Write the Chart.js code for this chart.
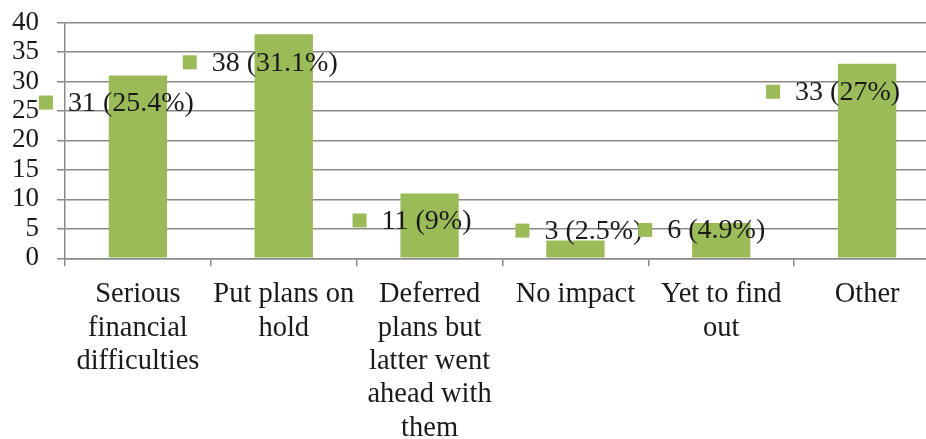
<!DOCTYPE html>
<html lang="en">
<head>
    <meta charset="UTF-8">
    <title>Impact on plans</title>
    <style>
        body {
            margin: 0;
            padding: 0;
            background: #fff;
            overflow: hidden;
        }
        #chart-container {
            width: 940px;
            height: 466px;
            margin-top: -9px;
        }
    </style>
</head>
<body>
    <div id="chart-container">
        <canvas id="impactChart"></canvas>
    </div>

    <script src="https://cdn.jsdelivr.net/npm/chart.js"></script>
    <script>
        var categories = [
            ['Serious', 'financial', 'difficulties'],
            ['Put plans on', 'hold'],
            ['Deferred', 'plans but', 'latter went', 'ahead with', 'them'],
            ['No impact'],
            ['Yet to find', 'out'],
            ['Other']
        ];
        var counts = [31, 38, 11, 3, 6, 33];
        var yTicks = [0, 5, 10, 15, 20, 25, 30, 35, 40];

        var serif = '"Liberation Serif", "Times New Roman", serif';
        var green = '#9bbb59';
        var gridGray = '#8a8a8a';

        var total = counts.reduce(function (a, b) { return a + b; }, 0);

        // label box positions, relative to the top centre of each bar (px)
        var labelOffsets = [
            { dx: -99, dy: 27 },
            { dx: -101, dy: 28 },
            { dx: -77, dy: 27 },
            { dx: -60, dy: -10 },
            { dx: -83, dy: 7 },
            { dx: -101, dy: 28 }
        ];

        var valueLabels = {
            id: 'valueLabels',
            afterDraw: function (chart) {
                var ctx = chart.ctx;
                var meta = chart.getDatasetMeta(0);
                ctx.save();
                ctx.font = '28px ' + serif;
                ctx.textBaseline = 'middle';
                ctx.textAlign = 'left';
                meta.data.forEach(function (bar, i) {
                    var v = counts[i];
                    var pct = Math.round(v / total * 1000) / 10;
                    var off = labelOffsets[i];
                    var sx = bar.x + off.dx;
                    var cy = bar.y + off.dy;
                    ctx.fillStyle = green;
                    ctx.fillRect(sx, cy - 7, 14, 14);
                    ctx.fillStyle = '#1a1a1a';
                    ctx.fillText(v + ' (' + pct + '%)', sx + 29, cy + 1);
                });
                ctx.restore();
            }
        };

        var ctx = document.getElementById('impactChart').getContext('2d');
        var impactChart = new Chart(ctx, {
            type: 'bar',
            data: {
                labels: categories,
                datasets: [{
                    data: counts,
                    backgroundColor: green,
                    borderWidth: 0,
                    categoryPercentage: 1,
                    barPercentage: 0.4
                }]
            },
            options: {
                responsive: true,
                maintainAspectRatio: false,
                animation: false,
                layout: {
                    padding: { left: 0, top: 0, right: 0, bottom: 0 }
                },
                plugins: {
                    legend: { display: false },
                    tooltip: { enabled: false }
                },
                scales: {
                    x: {
                        offset: true,
                        grid: {
                            offset: true,
                            drawOnChartArea: false,
                            color: gridGray,
                            lineWidth: 1.5,
                            tickLength: 8
                        },
                        border: { color: gridGray, width: 1.5 },
                        ticks: {
                            color: '#1a1a1a',
                            font: { family: serif, size: 28.5, lineHeight: 1.17 },
                            padding: 12,
                            maxRotation: 0,
                            autoSkip: false
                        }
                    },
                    y: {
                        min: 0,
                        max: 40,
                        afterBuildTicks: function (scale) {
                            scale.ticks = yTicks.map(function (t) { return { value: t }; });
                        },
                        afterFit: function (scale) {
                            scale.width = 65;
                        },
                        grid: {
                            color: gridGray,
                            lineWidth: 1.5,
                            tickLength: 8
                        },
                        border: { color: gridGray, width: 1.5 },
                        ticks: {
                            color: '#1a1a1a',
                            font: { family: serif, size: 27, lineHeight: 1 },
                            padding: 18,
                            autoSkip: false
                        }
                    }
                }
            },
            plugins: [valueLabels]
        });
    </script>
</body>
</html>
